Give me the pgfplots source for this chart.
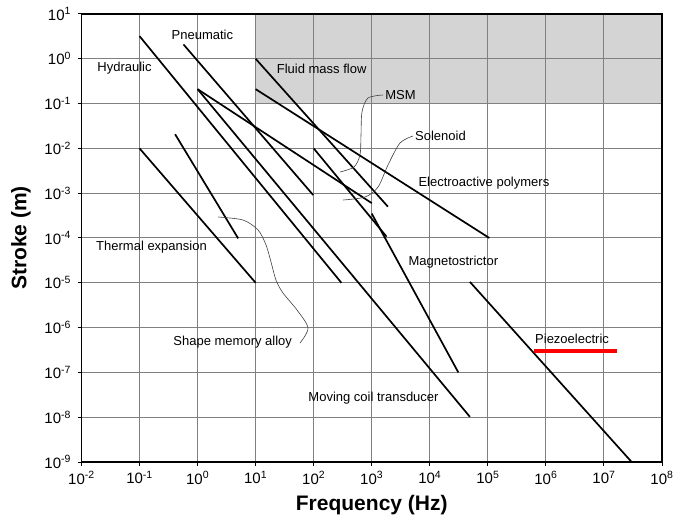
\documentclass[border=0pt]{standalone}
\usepackage{fontspec}
\setmainfont{Liberation Sans}
\usepackage{pgfplots}
\pgfplotsset{compat=1.18}
\tikzset{
  lbl/.style={font=\fontsize{13bp}{15bp}\selectfont, inner sep=0pt},
  act/.style={black, solid, mark=none, line width=1.7bp},
  lead/.style={smooth, mark=none, line width=0.6bp, black!75},
}
\begin{document}
\begin{tikzpicture}
\begin{axis}[
  name=ax,
  scale only axis,
  width=580.5bp, height=448bp,
  xmode=log, ymode=log,
  xmin=1e-2, xmax=1e8, ymin=1e-9, ymax=1e1,
  xtick={1e-2,1e-1,1,1e1,1e2,1e3,1e4,1e5,1e6,1e7,1e8},
  xticklabels={10\textsuperscript{-2},10\textsuperscript{-1},10\textsuperscript{0},10\textsuperscript{1},10\textsuperscript{2},10\textsuperscript{3},10\textsuperscript{4},10\textsuperscript{5},10\textsuperscript{6},10\textsuperscript{7},10\textsuperscript{8}},
  ytick={1e-9,1e-8,1e-7,1e-6,1e-5,1e-4,1e-3,1e-2,1e-1,1,1e1},
  yticklabels={10\textsuperscript{-9},10\textsuperscript{-8},10\textsuperscript{-7},10\textsuperscript{-6},10\textsuperscript{-5},10\textsuperscript{-4},10\textsuperscript{-3},10\textsuperscript{-2},10\textsuperscript{-1},10\textsuperscript{0},10\textsuperscript{1}},
  xminorticks=false, yminorticks=false,
  grid=major,
  major grid style={draw=black!50, line width=1bp},
  tick align=outside, tick pos=left,
  major tick length=4bp,
  axis line style={line width=1.3bp},
  tick style={black, line width=1bp},
  ticklabel style={font=\fontsize{15bp}{17bp}\selectfont},
  xticklabel style={yshift=-2bp},
  yticklabel style={xshift=-3bp},
  xlabel={Frequency (Hz)}, ylabel={Stroke (m)},
  label style={font=\bfseries\fontsize{21bp}{24bp}\selectfont},
  xlabel style={at={(axis description cs:0.5,-0.096)}, anchor=center},
  ylabel style={at={(axis description cs:-0.1042,0.5)}, anchor=center},
  set layers=standard,
  clip=false,
]
% shaded region
\addplot[fill=black!17, draw=none, on layer=axis background] coordinates {(10,0.1) (1e8,0.1) (1e8,10) (10,10) (10,0.1)};

% actuator lines
\addplot[act] coordinates {(0.1,3.2) (300,1e-5)};        % hydraulic
\addplot[act] coordinates {(0.57,2.1) (98,9.1e-4)};      % pneumatic
\addplot[act] coordinates {(1,0.21) (4.9e4,1.02e-8)};    % moving coil
\addplot[act] coordinates {(1,0.21) (1e3,6e-4)};         % solenoid
\addplot[act] coordinates {(10,1) (1.9e3,5e-4)};         % fluid mass flow
\addplot[act] coordinates {(10,0.21) (1.06e5,1e-4)};     % electroactive polymers
\addplot[act] coordinates {(100,0.01) (1.8e3,1.07e-4)};  % MSM
\addplot[act] coordinates {(0.1,0.01) (10,1e-5)};        % thermal expansion
\addplot[act] coordinates {(0.41,0.0207) (5,9.8e-5)};    % shape memory alloy
\addplot[act] coordinates {(1e3,3.5e-4) (3.1e4,1e-7)};   % magnetostrictor
\addplot[act] coordinates {(4.9e4,1.05e-5) (3e7,1e-9)};  % piezoelectric
\addplot[red, mark=none, line width=4bp] coordinates {(6.3e5,3.05e-7) (1.66e7,3.05e-7)};

% leader curves
\addplot[lead] coordinates {(1563,0.1556) (861,0.133) (679,0.0649) (653,0.0199) (627,0.00713) (494,0.00385) (284,0.00297)};
\addplot[lead] coordinates {(5140,0.0189) (3069,0.0132) (1905,0.00426) (1282,0.001374) (765,0.000822) (320,0.000705)};
\addplot[lead] coordinates {(58.1,4.53e-7) (79.8,9.8e-7) (51.6,2.47e-6) (29.6,5.91e-6) (22.4,1.15e-5) (18.4,2.91e-5) (15.1,6.98e-5) (11.0,1.51e-4) (6.05,2.52e-4) (2.25,2.94e-4)};

% labels
\node[lbl] at (axis cs:1.21,3.39) {Pneumatic};
\node[lbl] at (axis cs:0.055,0.61) {Hydraulic};
\node[lbl] at (axis cs:137,0.59) {Fluid mass flow};
\node[lbl, anchor=west] at (axis cs:1700,0.155) {MSM};
\node[lbl, anchor=west] at (axis cs:5560,0.0189) {Solenoid};
\node[lbl, anchor=west] at (axis cs:6340,1.71e-3) {Electroactive polymers};
\node[lbl, anchor=west] at (axis cs:4270,2.82e-5) {Magnetostrictor};
\node[lbl, anchor=west] at (axis cs:6.49e5,5.5e-7) {Piezoelectric};
\node[lbl, anchor=west] at (axis cs:80.7,2.63e-8) {Moving coil transducer};
\node[lbl, anchor=west] at (axis cs:0.381,4.84e-7) {Shape memory alloy};
\node[lbl, anchor=west] at (axis cs:0.0178,6.4e-5) {Thermal expansion};
\end{axis}
\pgfresetboundingbox
\path ([shift={(-81.5bp,-61bp)}]ax.south west) rectangle ([shift={(11bp,14bp)}]ax.north east);
\end{tikzpicture}
\end{document}
